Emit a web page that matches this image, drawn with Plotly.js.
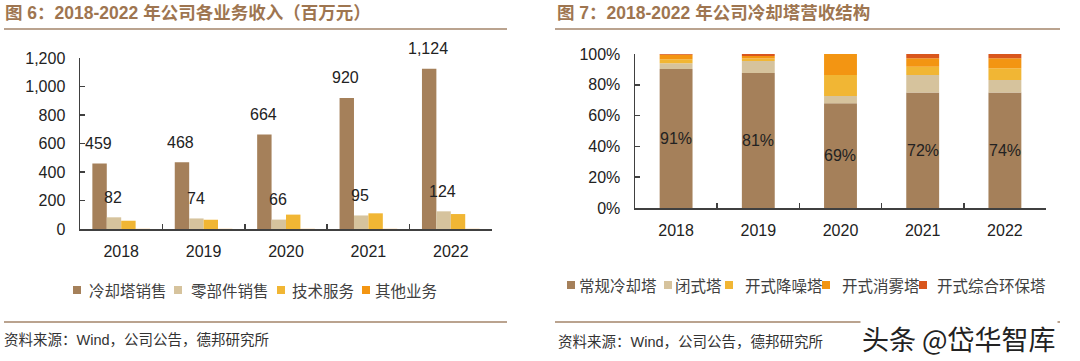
<!DOCTYPE html>
<html>
<head>
<meta charset="utf-8">
<script src="https://cdn.plot.ly/plotly-3.0.1.min.js"></script>
<style>
  html, body { margin: 0; padding: 0; background: #fff; }
  #chart { width: 1080px; height: 361px; }
</style>
</head>
<body>
<div id="chart"></div>
<script>
// ---------- Data: chart 1 (revenue by business, RMB mn) ----------
const years = ['2018', '2019', '2020', '2021', '2022'];
const towerSales = [459, 468, 664, 920, 1124];   // 冷却塔销售
const partsSales = [82, 74, 66, 95, 124];        // 零部件销售
const techService = [58, 65, 101, 110, 105];     // 技术服务
const otherBiz = [1, 1, 1, 1, 1];                // 其他业务
const seriesNames1 = ['冷却塔销售', '零部件销售', '技术服务', '其他业务'];
const yTicks1 = [0, 200, 400, 600, 800, 1000, 1200];

// ---------- Data: chart 2 (cooling tower revenue structure, %) ----------
const regularTower = [90.3, 87.7, 68.0, 75.0, 75.0];   // 常规冷却塔
const closedTower = [3.7, 7.8, 4.7, 11.4, 8.1];         // 闭式塔
const noiseTower = [2.6, 1.5, 13.7, 5.4, 7.6];          // 开式降噪塔
const fogTower = [2.9, 1.7, 13.6, 5.4, 6.5];            // 开式消雾塔
const ecoTower = [0.5, 1.3, 0.0, 2.8, 2.8];             // 开式综合环保塔
const seriesNames2 = ['常规冷却塔', '闭式塔', '开式降噪塔', '开式消雾塔', '开式综合环保塔'];
const regularLabels = ['91%', '81%', '69%', '72%', '74%'];
const yTicks2 = [0, 20, 40, 60, 80, 100];
const yTickText2 = ['0%', '20%', '40%', '60%', '80%', '100%'];

// ---------- Styles ----------
const colors = ['#a5805a', '#d6c39d', '#f1b634', '#f39512', '#d9561c'];
const numFont = 'Liberation Sans, Arial, sans-serif';
const cjkFont = 'Noto Sans CJK SC, sans-serif';
const mixFont = 'Liberation Sans, Noto Sans CJK SC, sans-serif';
const titleColor = '#9e7550';
const ruleColor = '#a3846a';
const W = 1080, H = 361;
const px = v => v / W;
const py = v => (H - v) / H;

const traces = [];
const vals1 = [towerSales, partsSales, techService, otherBiz];
vals1.forEach((v, i) => {
  traces.push({
    type: 'bar', x: years, y: v, name: seriesNames1[i],
    xaxis: 'x', yaxis: 'y', showlegend: false,
    marker: { color: colors[i] }, hoverinfo: 'x+y+name'
  });
});

const vals2 = [regularTower, closedTower, noiseTower, fogTower, ecoTower];
const cum = years.map(() => 0);
vals2.forEach((v, i) => {
  const base = cum.slice();
  traces.push({
    type: 'bar', x: years, y: v, base: base, name: seriesNames2[i],
    xaxis: 'x2', yaxis: 'y2', showlegend: false,
    offsetgroup: 'stack', width: 0.4, offset: -0.2,
    marker: { color: colors[i] }, hoverinfo: 'x+y+name'
  });
  v.forEach((val, j) => { cum[j] += val; });
});

const annotations = [];
const shapes = [];
// data labels chart 1
years.forEach((yr, j) => {
  annotations.push({ xref: 'x', yref: 'y', x: j, y: towerSales[j], text: towerSales[j].toLocaleString('en-US'),
    showarrow: false, xshift: -23, yshift: 20, font: { family: numFont, size: 16, color: '#222' } });
  annotations.push({ xref: 'x', yref: 'y', x: j, y: partsSales[j], text: String(partsSales[j]),
    showarrow: false, xshift: -8, yshift: 20, font: { family: numFont, size: 16, color: '#222' } });
});
// data labels chart 2
years.forEach((yr, j) => {
  annotations.push({ xref: 'x2', yref: 'y2', x: j, y: regularTower[j] / 2, text: regularLabels[j],
    showarrow: false, font: { family: numFont, size: 16, color: '#222' } });
});

// legends (squares + text)
function addLegend(names, squareX, textX, yc) {
  names.forEach((nm, i) => {
    shapes.push({ type: 'rect', xref: 'paper', yref: 'paper',
      x0: px(squareX[i]), x1: px(squareX[i] + 8), y0: py(yc - 4), y1: py(yc + 4),
      fillcolor: colors[i], line: { width: 0 } });
    annotations.push({ xref: 'paper', yref: 'paper', x: px(textX[i]), y: py(yc), xanchor: 'left', yanchor: 'middle',
      text: nm, showarrow: false, font: { family: cjkFont, size: 15.5, color: '#404040' } });
  });
}
addLegend(seriesNames1, [73, 174, 277, 362], [87, 189, 290, 373], 290);
addLegend(seriesNames2, [567, 664, 725, 822, 919], [577, 673, 743, 840, 935], 285);

// titles
annotations.push({ xref: 'paper', yref: 'paper', x: px(3), y: py(13), xanchor: 'left', yanchor: 'middle',
  text: '<b>图 6：2018-2022 年公司各业务收入（百万元）</b>', showarrow: false,
  font: { family: mixFont, size: 17.5, color: titleColor } });
annotations.push({ xref: 'paper', yref: 'paper', x: px(555), y: py(13), xanchor: 'left', yanchor: 'middle',
  text: '<b>图 7：2018-2022 年公司冷却塔营收结构</b>', showarrow: false,
  font: { family: mixFont, size: 17.5, color: titleColor } });
// sources
annotations.push({ xref: 'paper', yref: 'paper', x: px(2), y: py(340), xanchor: 'left', yanchor: 'middle',
  text: '资料来源：Wind，公司公告，德邦研究所', showarrow: false,
  font: { family: mixFont, size: 14.5, color: '#333' } });
annotations.push({ xref: 'paper', yref: 'paper', x: px(556), y: py(342), xanchor: 'left', yanchor: 'middle',
  text: '资料来源：Wind，公司公告，德邦研究所', showarrow: false,
  font: { family: mixFont, size: 14.5, color: '#333' } });
// watermark
annotations.push({ xref: 'paper', yref: 'paper', x: px(860), y: py(338), xanchor: 'left', yanchor: 'middle',
  text: '头条 @岱华智库', showarrow: false, bgcolor: '#ffffff',
  font: { family: cjkFont, size: 27, color: '#222' } });

shapes.push(
  { type: 'line', xref: 'paper', yref: 'paper', x0: px(4), x1: px(507), y0: py(29), y1: py(29), line: { color: ruleColor, width: 1.5 } },
  { type: 'line', xref: 'paper', yref: 'paper', x0: px(555), x1: px(1060), y0: py(29), y1: py(29), line: { color: ruleColor, width: 1.5 } },
  { type: 'line', xref: 'paper', yref: 'paper', x0: px(4), x1: px(507), y0: py(322), y1: py(322), line: { color: ruleColor, width: 1.5 } },
  { type: 'line', xref: 'paper', yref: 'paper', x0: px(555), x1: px(1060), y0: py(322), y1: py(322), line: { color: ruleColor, width: 1.5 } }
);

const axisCommon = {
  showgrid: false, zeroline: false, showline: true, linecolor: '#404040', linewidth: 1.5,
  ticks: 'inside', ticklen: 5, tickcolor: '#404040', tickwidth: 1.5,
  tickfont: { family: numFont, size: 16, color: '#222' }, fixedrange: true, automargin: false
};

const layout = {
  width: W, height: H,
  margin: { l: 0, r: 0, t: 0, b: 0 },
  paper_bgcolor: '#fff', plot_bgcolor: '#fff',
  barmode: 'group', bargap: 0.3, bargroupgap: 0,
  showlegend: false,
  xaxis: Object.assign({}, axisCommon, { domain: [px(80), px(492)], anchor: 'y', type: 'category',
    tickson: 'boundaries', range: [-0.5, 4.5], ticklabelstandoff: 7 }),
  yaxis: Object.assign({}, axisCommon, { domain: [py(229), py(58)], anchor: 'x', range: [0, 1200],
    tickmode: 'array', tickvals: yTicks1, ticktext: yTicks1.map(v => v.toLocaleString('en-US')), ticklabelstandoff: 10 }),
  xaxis2: Object.assign({}, axisCommon, { domain: [px(635), px(1046)], anchor: 'y2', type: 'category',
    tickson: 'boundaries', range: [-0.5, 4.5], ticklabelstandoff: 7 }),
  yaxis2: Object.assign({}, axisCommon, { domain: [py(208), py(54)], anchor: 'x2', range: [0, 100],
    tickmode: 'array', tickvals: yTicks2, ticktext: yTickText2, ticklabelstandoff: 10 }),
  annotations: annotations,
  shapes: shapes
};

Plotly.newPlot('chart', traces, layout, { displayModeBar: false, staticPlot: true });
</script>
</body>
</html>
